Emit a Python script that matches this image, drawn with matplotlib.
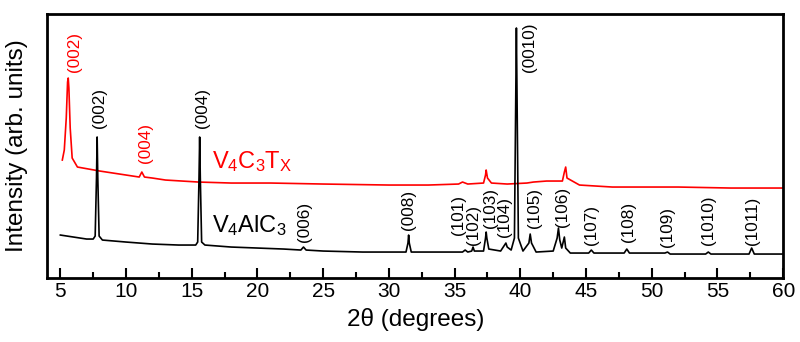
import matplotlib.pyplot as plt

plt.rcParams['font.family'] = ['Liberation Sans', 'DejaVu Sans']
plt.rcParams['mathtext.fontset'] = 'custom'
plt.rcParams['mathtext.rm'] = 'Liberation Sans'

# V4AlC3 pattern (2theta in degrees, intensity in arb. units)
max_2theta = [5.0, 6.0, 7.0, 7.5, 7.65, 7.75, 7.8, 7.85, 7.95, 8.2, 10, 12, 14,
              15.3, 15.45, 15.55, 15.6, 15.65, 15.75, 16, 18, 20, 22, 23.3, 23.5,
              23.7, 25, 28, 30, 31.3, 31.45, 31.5, 31.55, 31.7, 33, 34, 35.6,
              35.8, 36.0, 36.3, 36.4, 36.5, 37.2, 37.35, 37.4, 37.45, 37.6, 38.5,
              38.8, 38.9, 39.0, 39.3, 39.55, 39.65, 39.7, 39.75, 39.85, 40.2,
              40.65, 40.75, 40.85, 41.2, 42.5, 42.8, 42.9, 43.0, 43.15, 43.35,
              43.45, 43.8, 45.2, 45.4, 45.6, 47.9, 48.1, 48.3, 51, 51.2, 51.4,
              54.1, 54.3, 54.5, 57.4, 57.6, 57.8, 60]
max_int = [43, 41, 39, 39, 42, 100, 141, 100, 42, 38, 36, 34, 33,
           33, 36, 100, 141, 100, 36, 33, 31, 30, 29, 28, 31,
           28, 27, 26, 26, 26, 35, 43, 35, 26, 26, 26, 26,
           28, 26, 27, 31, 27, 27, 40, 46, 40, 29, 27,
           33, 35, 31, 28, 40, 180, 250, 180, 40, 27,
           35, 44, 35, 26, 27, 40, 50, 38, 30, 41,
           30, 25, 25, 28, 25, 25, 29, 25, 25, 26, 24,
           24, 26, 24, 24, 30, 24, 24]

# V4C3Tx MXene pattern
mx_2theta = [5.15, 5.3, 5.45, 5.55, 5.6, 5.65, 5.75, 5.9, 6.3, 8, 10.5, 11.0,
             11.2, 11.4, 12, 13, 15.5, 18, 21, 25, 30, 33, 35.3, 35.6, 36, 37.2,
             37.35, 37.4, 37.5, 37.8, 39, 40.5, 41, 42, 43.2, 43.35, 43.45,
             43.55, 44.5, 47, 52, 56, 60]
mx_int = [118, 128, 160, 196, 200, 190, 150, 120, 111, 107, 102, 101,
          106, 101, 100, 98, 96, 95, 95, 94, 93, 93, 94, 96, 94, 95,
          103, 108, 100, 95, 94, 95, 96, 97, 97, 106, 111,
          100, 93, 91, 91, 90, 90]

# peak index labels: (text, 2theta, bottom of label)
max_labels = [('(002)', 8.0, 150), ('(004)', 15.8, 150), ('(006)', 23.6, 36),
              ('(008)', 31.5, 48), ('(101)', 35.3, 43), ('(102)', 36.4, 33),
              ('(103)', 37.7, 50), ('(104)', 38.8, 41), ('(0010)', 40.7, 206),
              ('(105)', 41.1, 50), ('(106)', 43.2, 51), ('(107)', 45.4, 33),
              ('(108)', 48.2, 36), ('(109)', 51.2, 31), ('(1010)', 54.3, 33),
              ('(1011)', 57.7, 33)]
mx_labels = [('(002)', 6.06, 206), ('(004)', 11.5, 115)]

fig = plt.figure(figsize=(8, 3.42), dpi=100)
ax = fig.add_axes([0.059, 0.187, 0.92, 0.772])

ax.plot(mx_2theta, mx_int, color='#ff0000', lw=1.2)
ax.plot(max_2theta, max_int, color='black', lw=1.2)

for txt, x, y in max_labels:
    ax.text(x, y, txt, rotation=90, ha='center', va='bottom', fontsize=12.3)
for txt, x, y in mx_labels:
    ax.text(x, y, txt, rotation=90, ha='center', va='bottom', fontsize=12.3,
            color='#ff0000')

ax.text(16.56, 110, r'$\mathregular{V_4C_3T_X}$', color='#ff0000', fontsize=17)
ax.text(16.56, 46, r'$\mathregular{V_4AlC_3}$', color='black', fontsize=17)

ax.set_xlim(4, 60)
ax.set_ylim(0, 264)
ax.set_xticks(range(5, 61, 5))
ax.set_xticks([x + 2.5 for x in range(5, 60, 5)], minor=True)
ax.set_yticks([])
ax.tick_params(axis='x', direction='in', length=7, width=1.5, labelsize=15, pad=3)
ax.tick_params(axis='x', which='minor', direction='in', length=4, width=1.5)
for s in ax.spines.values():
    s.set_linewidth(2)

ax.set_xlabel('2θ (degrees)', fontsize=17.5, labelpad=5)
ax.set_ylabel('Intensity (arb. units)', fontsize=17.5, labelpad=14)

fig.savefig('out.png', dpi=100)
